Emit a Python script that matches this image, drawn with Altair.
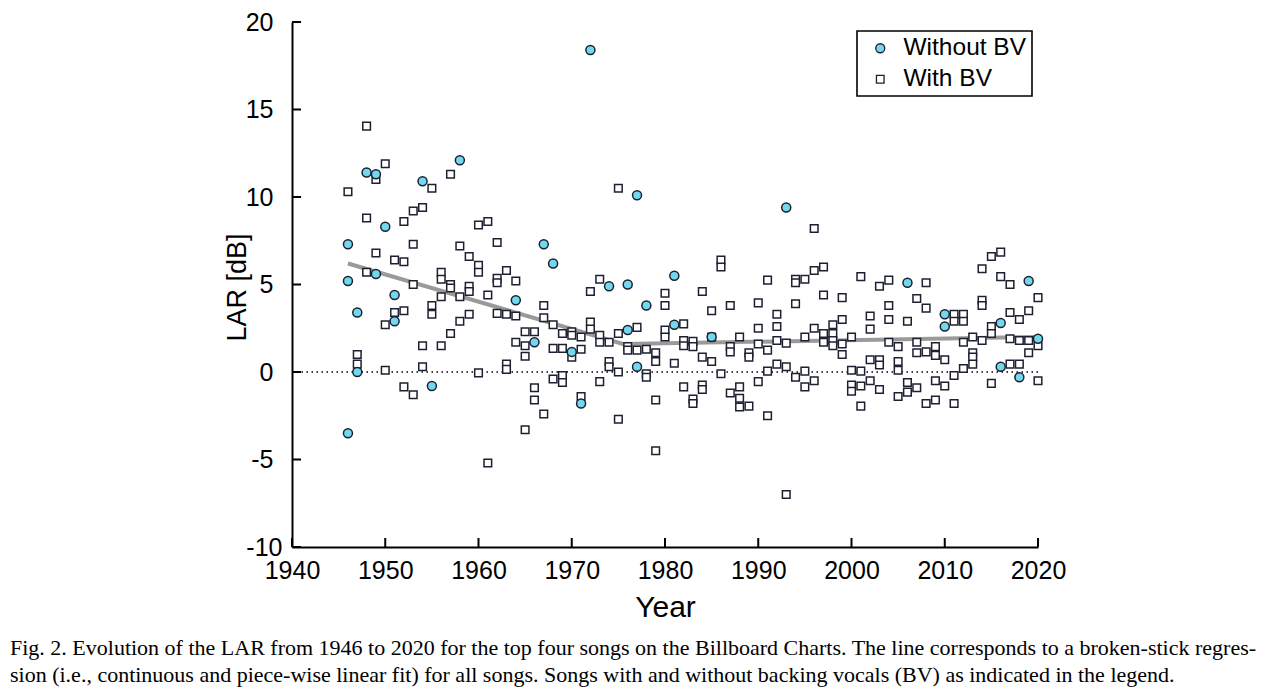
import altair as alt
import pandas as pd

# ---------------- data ----------------
nobv_years = [1946, 1946, 1946, 1947, 1947, 1948, 1949, 1949, 1950, 1951, 1951,
              1954, 1955, 1958, 1964, 1966, 1967, 1968, 1970, 1971, 1972, 1974,
              1976, 1976, 1977, 1977, 1978, 1981, 1981, 1985, 1993, 2006, 2010,
              2010, 2016, 2016, 2018, 2019, 2020]
nobv_lar = [-3.5, 5.2, 7.3, 3.4, 0.0, 11.4, 11.3, 5.6, 8.3, 4.4, 2.9,
            10.9, -0.8, 12.1, 4.1, 1.7, 7.3, 6.2, 1.15, -1.8, 18.4, 4.9,
            5.0, 2.4, 10.1, 0.3, 3.8, 5.5, 2.7, 2.0, 9.4, 5.1, 3.3,
            2.6, 2.8, 0.3, -0.3, 5.2, 1.9]

bv_rows = [
    (1946, [10.3]), (1947, [1.0, 0.45]), (1948, [14.05, 8.8, 5.7]),
    (1949, [11.0, 6.8]), (1950, [11.9, 2.7, 0.1]), (1951, [6.4, 3.4]),
    (1952, [8.6, 6.3, 3.5, -0.85]), (1953, [9.2, 7.3, 5.0, -1.3]),
    (1954, [9.4, 1.5, 0.3]), (1955, [10.5, 3.8, 3.3]),
    (1956, [5.7, 5.3, 4.3, 1.5]), (1957, [11.3, 5.0, 4.8, 2.2]),
    (1958, [7.2, 4.3, 2.9]), (1959, [6.6, 4.9, 4.6, 3.3]),
    (1960, [8.4, 6.1, 5.7, -0.05]), (1961, [8.6, 4.4, -5.2]),
    (1962, [7.4, 5.35, 5.1, 3.35]), (1963, [5.8, 3.3, 0.45, 0.15]),
    (1964, [5.2, 3.2, 1.7]), (1965, [2.3, 1.5, 0.9, -3.3]),
    (1966, [2.3, -0.9, -1.6]), (1967, [3.8, 3.1, -2.4]),
    (1968, [2.7, 1.35, -0.4]), (1969, [2.2, 1.35, -0.2, -0.6]),
    (1970, [2.3, 2.1, 0.85]), (1971, [2.0, 1.3, -1.4]),
    (1972, [4.6, 2.85, 2.45]), (1973, [5.3, 2.1, 1.7, -0.55]),
    (1974, [1.7, 0.6, 0.3]), (1975, [10.5, 2.2, 0.0, -2.7]),
    (1976, [1.45, 1.25]), (1977, [2.55, 1.25]), (1978, [1.3, -0.1, -0.3]),
    (1979, [1.1, 0.6, -1.6, -4.5]), (1980, [4.5, 3.8, 2.4, 2.0]),
    (1981, [0.5]), (1982, [2.75, 1.8, 1.5, -0.85]),
    (1983, [1.75, 1.45, -1.55, -1.8]), (1984, [4.6, 0.85, -0.75, -1.0]),
    (1985, [3.5, 2.0, 0.6]), (1986, [6.4, 6.0, -0.1]),
    (1987, [3.8, 1.45, 1.15, -1.2]), (1988, [2.0, -0.85, -1.5, -2.0]),
    (1989, [1.1, 0.85, -1.95]), (1990, [3.95, 2.5, 1.6, -0.55]),
    (1991, [5.25, 1.25, 0.05, -2.5]), (1992, [3.3, 2.6, 1.8, 0.45]),
    (1993, [1.65, 0.3, -7.0]), (1994, [5.3, 5.1, 3.9, -0.3]),
    (1995, [5.3, 2.0, 0.05, -0.85]), (1996, [8.2, 5.8, 2.5, -0.5]),
    (1997, [6.0, 4.4, 2.2, 1.7]), (1998, [2.7, 2.2, 1.8, 1.5]),
    (1999, [4.25, 3.0, 1.6, 1.0]), (2000, [2.0, 0.1, -0.75, -1.1]),
    (2001, [5.45, 0.05, -0.8, -1.95]), (2002, [3.2, 2.45, 0.7, -0.5]),
    (2003, [4.9, 0.7, 0.4, -1.0]), (2004, [5.25, 3.8, 3.0, 1.7]),
    (2005, [1.45, 0.6, 0.1, -1.4]), (2006, [2.9, -0.6, -1.15]),
    (2007, [4.2, 1.7, 1.1, -0.9]), (2008, [5.1, 3.65, 1.15, -1.8]),
    (2009, [1.45, 0.95, -0.5, -1.6]), (2010, [0.7, -0.8]),
    (2011, [3.3, 2.9, -0.2, -1.8]), (2012, [3.3, 2.9, 1.7, 0.2]),
    (2013, [2.0, 1.1, 0.85, 0.45]), (2014, [5.9, 4.1, 3.8, 1.8]),
    (2015, [6.6, 2.6, 2.2, -0.65]), (2016, [6.85, 5.45]),
    (2017, [5.0, 3.4, 1.9, 0.45]), (2018, [3.0, 1.8, 0.45]),
    (2019, [3.5, 1.8, 1.1]), (2020, [4.25, 1.5, -0.5]),
]

fit_years = [1946, 1975.5, 2020]
fit_lar = [6.2, 1.6, 2.0]

x_ticks = [1940, 1950, 1960, 1970, 1980, 1990, 2000, 2010, 2020]
y_ticks = [-10, -5, 0, 5, 10, 15, 20]
groups = ["Without BV", "With BV"]

caption_lines = [
    "Fig. 2. Evolution of the LAR from 1946 to 2020 for the top four songs on the Billboard Charts. The line corresponds to a broken-stick regres-",
    "sion (i.e., continuous and piece-wise linear fit) for all songs. Songs with and without backing vocals (BV) as indicated in the legend.",
]

# ---------------- tables ----------------
rows = []
for yr, vals in bv_rows:
    for v in vals:
        rows.append({"year": yr, "lar": v, "group": "With BV"})
for yr, v in zip(nobv_years, nobv_lar):
    rows.append({"year": yr, "lar": v, "group": "Without BV"})
pts = pd.DataFrame(rows)
fit = pd.DataFrame({"year": fit_years, "lar": fit_lar})
ytick_df = pd.DataFrame({"year": [1940] * len(y_ticks), "year2": [1940.97] * len(y_ticks), "lar": y_ticks})
xtick_df = pd.DataFrame({"year": x_ticks, "lar": [-10] * len(x_ticks), "lar2": [-9.486] * len(x_ticks)})
zero_df = pd.DataFrame({"lar": [0]})

SANS = "Liberation Sans"
INK = "#1c2030"

xscale = alt.Scale(domain=[1940, 2020], nice=False, zero=False)
yscale = alt.Scale(domain=[-10, 20], nice=False, zero=False)

x_axis = alt.Axis(values=x_ticks, format="d", labelFont=SANS, labelFontSize=25,
                  labelColor="black", labelPadding=11, labelFlush=False,
                  labelOverlap=False, tickSize=0, domainColor="black",
                  domainWidth=2, grid=False, title="Year", titleFont=SANS,
                  titleFontSize=30, titleFontWeight="normal", titleColor="black",
                  titleY=69, titleBaseline="alphabetic")
y_axis = alt.Axis(values=y_ticks, labelExpr="'' + datum.value",
                  labelFont=SANS, labelFontSize=25,
                  labelColor="black",
                  labelPadding={"condition": {"test": "datum.value == -10", "value": 10}, "value": 19},
                  labelFlush=False,
                  labelOverlap=False, tickSize=0, domainColor="black",
                  domainWidth=2, grid=False, title="LAR [dB]", titleFont=SANS,
                  titleFontSize=27, titleFontWeight="normal", titleColor="black",
                  titleX=-47, titleY=265, titleBaseline="alphabetic")

X = lambda f: alt.X(f, type="quantitative", scale=xscale, axis=x_axis)
Y = lambda f: alt.Y(f, type="quantitative", scale=yscale, axis=y_axis)

legend = alt.Legend(title=None, orient="none", legendX=565, legendY=9,
                    strokeColor="black", fillColor="white", padding=5,
                    rowPadding=6, labelFont=SANS, labelFontSize=24.5,
                    labelColor="black", symbolSize=45, symbolOffset=6,
                    labelOffset=11, symbolStrokeWidth=1.3,
                    symbolStrokeColor=INK)

zero = alt.Chart(zero_df).mark_rule(color="black", strokeWidth=1.5,
                                    strokeDash=[1.5, 3.5]).encode(y=Y("lar"))

fitline = alt.Chart(fit).mark_line(color="#9a9a9a", strokeWidth=4).encode(
    x=X("year"), y=Y("lar"))

points = alt.Chart(pts).mark_point(filled=True, opacity=1, stroke=INK,
                                   strokeWidth=1.5).encode(
    x=X("year"), y=Y("lar"),
    color=alt.Color("group:N", scale=alt.Scale(domain=groups, range=["#72d8ef", "#ffffff"]), legend=legend),
    shape=alt.Shape("group:N", scale=alt.Scale(domain=groups, range=["circle", "square"]), legend=legend),
    size=alt.Size("group:N", scale=alt.Scale(domain=groups, range=[81, 58]), legend=None),
)

yticks = alt.Chart(ytick_df).mark_rule(color="black", strokeWidth=2).encode(
    x=X("year"), x2="year2", y=Y("lar"))
xticks = alt.Chart(xtick_df).mark_rule(color="black", strokeWidth=2).encode(
    x=X("year"), y=Y("lar"), y2="lar2")

chart = alt.layer(zero, fitline, points, yticks, xticks).properties(
    width=746, height=525,
    padding={"left": 284, "top": 14, "right": 234, "bottom": 142},
    autosize=alt.AutoSizeParams(type="none"),
    title=alt.TitleParams(text=caption_lines, orient="bottom", anchor="start",
                          frame="group", dx=-282, offset=16,
                          font="Liberation Serif", fontSize=22,
                          fontWeight="normal", color="black", lineHeight=27),
).configure_view(stroke=None).configure_legend(strokeWidth=1.6)

chart.save("out.html", embed_options={"renderer": "svg", "actions": False})
